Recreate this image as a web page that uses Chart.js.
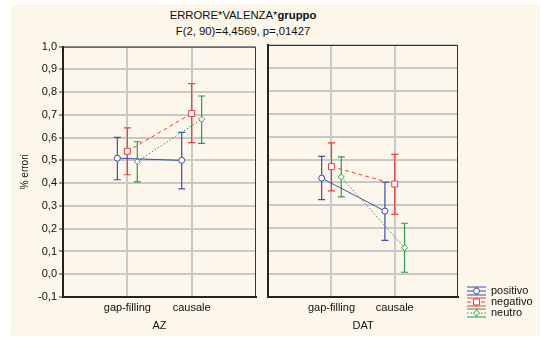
<!DOCTYPE html>
<html>
<head>
<meta charset="utf-8">
<script src="https://cdn.jsdelivr.net/npm/chart.js@4"></script>
<style>
  body { margin: 0; background: #fff; font-family: "Liberation Sans", Arial, sans-serif; }
  #bg { position: absolute; left: 11px; top: 4px; width: 529px; height: 332px; background: #fdf6ea; }
  #title { position: absolute; left: 133px; top: 8px; width: 220px; text-align: center;
           font-size: 11.3px; line-height: 15.5px; color: #111; }
  .panel { position: absolute; top: 38px; height: 298px; }
  #left { left: 11px; width: 252px; }
  #right { left: 263px; width: 277px; }
</style>
</head>
<body>
<div id="bg"></div>
<div id="title">ERRORE*VALENZA*<b>gruppo</b><br>F(2, 90)=4,4569, p=,01427</div>
<div class="panel" id="left"><canvas id="azChart"></canvas></div>
<div class="panel" id="right"><canvas id="datChart"></canvas></div>
<script>
const categories = ['gap-filling', 'causale'];
const panels = ['AZ', 'DAT'];
const seriesNames = ['positivo', 'negativo', 'neutro'];
const yTicks = [-0.1, 0.0, 0.1, 0.2, 0.3, 0.4, 0.5, 0.6, 0.7, 0.8, 0.9, 1.0];

// AZ: means and confidence limits
const azPositivo = [0.510, 0.500];
const azPositivoLow = [0.415, 0.375];
const azPositivoHigh = [0.601, 0.623];
const azNegativo = [0.540, 0.706];
const azNegativoLow = [0.437, 0.578];
const azNegativoHigh = [0.643, 0.837];
const azNeutro = [0.495, 0.681];
const azNeutroLow = [0.406, 0.575];
const azNeutroHigh = [0.582, 0.783];

// DAT
const datPositivo = [0.419, 0.275];
const datPositivoLow = [0.325, 0.147];
const datPositivoHigh = [0.514, 0.401];
const datNegativo = [0.469, 0.393];
const datNegativoLow = [0.363, 0.261];
const datNegativoHigh = [0.573, 0.523];
const datNeutro = [0.424, 0.115];
const datNeutroLow = [0.337, 0.008];
const datNeutroHigh = [0.512, 0.222];

const colors = ['#3a4fb0', '#f03c3c', '#2f9a4e'];
const dashes = [[], [4, 3], [1.5, 2]];
const markers = ['circle', 'rect', 'rectRot'];
const markerSizes = [3, 4.2, 3];
const seriesShift = [-0.155, 0, 0.155];
const font = "'Liberation Sans', Arial, sans-serif";

function fmt(v) {
    if (Math.abs(v) < 1e-9) v = 0;
    return v.toFixed(1).replace('.', ',');
}

function makeDatasets(means, lows, highs) {
    return means.map((m, s) => ({
        label: seriesNames[s],
        data: m.map((v, i) => ({ x: i + 1 + seriesShift[s], y: v, lo: lows[s][i], hi: highs[s][i] })),
        borderColor: colors[s],
        borderWidth: 1,
        borderDash: dashes[s],
        pointStyle: markers[s],
        pointRadius: markerSizes[s],
        pointBorderWidth: 1,
        pointBackgroundColor: '#fff',
        pointBorderColor: colors[s],
        showLine: true,
        fill: false,
        tension: 0
    }));
}

const errorBars = {
    id: 'errorBars',
    beforeDatasetsDraw(chart) {
        const ctx = chart.ctx;
        const xs = chart.scales.x, ys = chart.scales.y;
        ctx.save();
        chart.data.datasets.forEach((ds, s) => {
            ctx.strokeStyle = colors[s];
            ctx.lineWidth = 1.2;
            ds.data.forEach(p => {
                const x = xs.getPixelForValue(p.x);
                const y1 = ys.getPixelForValue(p.lo);
                const y2 = ys.getPixelForValue(p.hi);
                ctx.beginPath();
                ctx.moveTo(x, y1); ctx.lineTo(x, y2);
                ctx.moveTo(x - 3.5, y1); ctx.lineTo(x + 3.5, y1);
                ctx.moveTo(x - 3.5, y2); ctx.lineTo(x + 3.5, y2);
                ctx.stroke();
            });
        });
        ctx.restore();
    }
};

const frame = {
    id: 'frame',
    beforeDatasetsDraw(chart) {
        const a = chart.chartArea, ctx = chart.ctx;
        ctx.save();
        ctx.strokeStyle = '#333';
        ctx.lineWidth = 1;
        ctx.beginPath();
        ctx.moveTo(a.left, a.top + 0.5);
        ctx.lineTo(a.right - 0.5, a.top + 0.5);
        ctx.lineTo(a.right - 0.5, a.bottom);
        ctx.stroke();
        ctx.restore();
    }
};

const legendBox = {
    id: 'legendBox',
    afterDraw(chart) {
        const ctx = chart.ctx, a = chart.chartArea;
        const x0 = a.right + 9, w = 19;
        ctx.save();
        seriesNames.forEach((name, s) => {
            const y = a.bottom - 6 + s * 11;
            ctx.strokeStyle = colors[s];
            ctx.lineWidth = 1.2;
            ctx.setLineDash([]);
            ctx.beginPath();
            ctx.moveTo(x0, y - 4); ctx.lineTo(x0 + w, y - 4);
            ctx.moveTo(x0, y + 4); ctx.lineTo(x0 + w, y + 4);
            ctx.moveTo(x0 + w / 2, y - 4); ctx.lineTo(x0 + w / 2, y + 4);
            ctx.stroke();
            ctx.lineWidth = 1;
            ctx.setLineDash(dashes[s]);
            ctx.beginPath();
            ctx.moveTo(x0, y); ctx.lineTo(x0 + w, y);
            ctx.stroke();
            ctx.setLineDash([]);
            ctx.fillStyle = '#fff';
            Chart.helpers.drawPoint(ctx, { pointStyle: markers[s], radius: markerSizes[s], borderWidth: 1 }, x0 + w / 2, y);
            ctx.fillStyle = '#111';
            ctx.font = '11px ' + font;
            ctx.textBaseline = 'middle';
            ctx.fillText(name, x0 + w + 5, y);
        });
        ctx.restore();
    }
};

function makeChart(id, panel, means, lows, highs, showY) {
    const datasets = makeDatasets(means, lows, highs);
    return new Chart(document.getElementById(id), {
        type: 'line',
        data: { datasets },
        plugins: showY ? [errorBars, frame] : [errorBars, frame, legendBox],
        options: {
            responsive: true,
            maintainAspectRatio: false,
            animation: false,
            layout: { padding: { top: 7, right: showY ? 7 : 82, left: showY ? 0 : 4, bottom: 0 } },
            plugins: { legend: { display: false }, tooltip: { enabled: false } },
            scales: {
                x: {
                    type: 'linear',
                    min: 0,
                    max: 3,
                    afterBuildTicks: s => { s.ticks = categories.map((c, i) => ({ value: i + 1 })); },
                    afterFit: s => { s.height = 39; },
                    ticks: {
                        callback: v => categories[v - 1],
                        font: { family: font, size: 11 },
                        color: '#111',
                        padding: 4,
                        maxRotation: 0
                    },
                    grid: { color: '#c8c8c8', lineWidth: 2, drawTicks: false },
                    border: { display: true, color: '#222', width: 2 },
                    title: {
                        display: true,
                        text: panel,
                        font: { family: font, size: 11 },
                        color: '#111',
                        padding: { top: 0, bottom: 3 }
                    }
                },
                y: {
                    min: -0.1,
                    max: 1.0,
                    afterBuildTicks: s => { s.ticks = yTicks.map(v => ({ value: v })); },
                    afterFit: s => { s.width = showY ? 52 : 0; },
                    ticks: {
                        display: showY,
                        callback: v => fmt(v),
                        font: { family: font, size: 11 },
                        color: '#111',
                        padding: 2
                    },
                    grid: { color: '#c8c8c8', lineWidth: 2, drawTicks: showY, tickLength: 4, tickColor: '#333', tickWidth: 1 },
                    border: { display: true, color: '#222', width: 2 },
                    title: {
                        display: showY,
                        text: '% errori',
                        font: { family: font, size: 10 },
                        color: '#111',
                        padding: { top: 8, bottom: 0 }
                    }
                }
            }
        }
    });
}

makeChart('azChart', panels[0],
    [azPositivo, azNegativo, azNeutro],
    [azPositivoLow, azNegativoLow, azNeutroLow],
    [azPositivoHigh, azNegativoHigh, azNeutroHigh], true);

makeChart('datChart', panels[1],
    [datPositivo, datNegativo, datNeutro],
    [datPositivoLow, datNegativoLow, datNeutroLow],
    [datPositivoHigh, datNegativoHigh, datNeutroHigh], false);
</script>
</body>
</html>
